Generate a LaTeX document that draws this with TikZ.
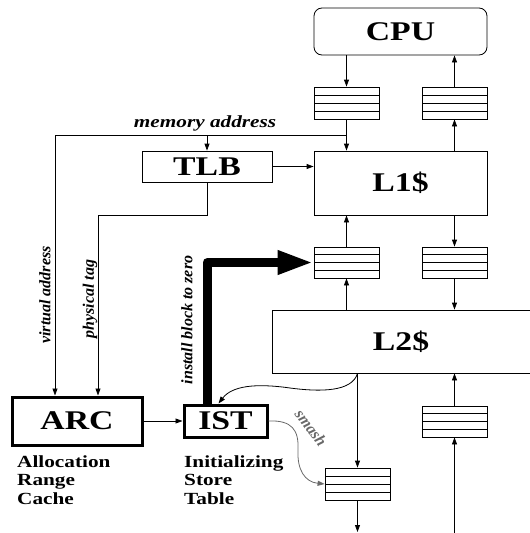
\documentclass[tikz,border=0pt]{standalone}
\usepackage{fontspec}
\setmainfont{Liberation Serif}
\newfontfamily\wide{Liberation Serif}[FakeStretch=1.25]
\usetikzlibrary{arrows.meta,calc}
\definecolor{smashgrey}{RGB}{105,105,105}
\tikzset{
  conn/.style={line width=0.8pt, -{Triangle[length=7pt,width=5pt]}},
  blk/.style={draw, line width=0.8pt, inner sep=0pt, font=\wide\bfseries\fontsize{27}{30}\selectfont},
  thickblk/.style={blk, line width=3pt},
  queue/.style={draw, line width=0.8pt, minimum width=65pt, minimum height=32pt, inner sep=0pt,
    path picture={\foreach \f in {0.25,0.5,0.75}{\draw[line width=0.8pt] ($(path picture bounding box.north west)!\f!(path picture bounding box.south west)$) -- ($(path picture bounding box.north east)!\f!(path picture bounding box.south east)$);}}},
  caption/.style={anchor=north west, align=left, inner sep=0pt, font=\wide\bfseries\fontsize{17}{18.5}\selectfont},
  sidelabel/.style={rotate=90, inner sep=0pt, font=\bfseries\itshape\fontsize{16}{18}\selectfont}
}
\begin{document}
\begin{tikzpicture}[x=1pt,y=-1pt]
\useasboundingbox (0,0) rectangle (530,533);
% blocks
\node[blk, rounded corners=8pt, minimum width=173pt, minimum height=47pt] (cpu) at (400.5,31.5) {CPU};
\node[queue] (q1) at (346.5,103) {};
\node[queue] (q2) at (454.5,103) {};
\node[blk, minimum width=173pt, minimum height=64pt] (l1) at (400.5,183) {L1\$};
\node[blk, minimum width=130pt, minimum height=31pt] (tlb) at (207,166.5) {TLB};
\node[queue, minimum height=31pt] (q3) at (346.5,262.5) {};
\node[queue, minimum height=31pt] (q4) at (454.5,262.5) {};
\node[blk, minimum width=264pt, minimum height=63pt] (l2) at (404,341.5) {};
\node[font=\wide\bfseries\fontsize{27}{30}\selectfont] (l2t) at (401,341.5) {L2\$};
\node[thickblk, minimum width=130pt, minimum height=48pt] (arc) at (77,421) {ARC};
\node[thickblk, minimum width=83pt, minimum height=32pt] (ist) at (225.5,421) {IST};
\node[queue] (q5) at (357.5,484) {};
\node[queue, minimum height=31pt] (q6) at (454.5,421.5) {};
% captions
\node[caption] (arccap) at (17,455) {Allocation\\Range\\Cache};
\node[caption] (istcap) at (184,455) {Initializing\\Store\\Table};
% labels
\node[anchor=base, inner sep=0pt, font=\wide\bfseries\itshape\fontsize{17}{19}\selectfont] (mal) at (205,127) {memory address};
\node[sidelabel] (val) at (45,295) {virtual address};
\node[sidelabel] (ptl) at (90,299) {physical tag};
\node[sidelabel] (ibl) at (187,320) {install block to zero};
\node[rotate=-53, inner sep=0pt, text=smashgrey, font=\bfseries\itshape\fontsize{16}{18}\selectfont] (sml) at (311,428) {smash};
% coordinates
\coordinate (ma) at (346.5,135);
\coordinate (mleft) at (55,135);
\coordinate (ptc) at (98,215);
\coordinate (outq) at (357.5,532);
\coordinate (inq) at (454.5,533);
% connectors
\draw[conn] (q1.north |- cpu.south) -- (q1.north);
\draw[conn] (q1.south) -- (q1.south |- l1.north);
\draw[conn] (q2.south |- l1.north) -- (q2.south);
\draw[conn] (q2.north) -- (q2.north |- cpu.south);
\draw[conn] (ma) -- (mleft) -- (mleft |- arc.north);
\draw[conn] (tlb.north |- ma) -- (tlb.north);
\draw[conn] (tlb.east) -- (tlb.east -| l1.west);
\draw[conn] (tlb.south) |- (ptc) -- (ptc |- arc.north);
\draw[conn] (q3.north) -- (q3.north |- l1.south);
\draw[conn] (q3.south |- l2.north) -- (q3.south);
\draw[conn] (q4.north |- l1.south) -- (q4.north);
\draw[conn] (q4.south) -- (q4.south |- l2.north);
\draw[conn] (q5.north |- l2.south) -- (q5.north);
\draw[conn] (q5.south) -- (outq);
\draw[conn] (inq) -- (q6.south);
\draw[conn] (q6.north) -- (q6.north |- l2.south);
\draw[conn] (arc.east) -- (ist.west);
\draw[line width=9pt, line join=round, -{Triangle[length=36pt,width=22pt]}] ([xshift=-18.5pt]ist.north) |- (q3.west);
\draw[conn] (q5.north |- l2.south) .. controls (352,392) and (320,392) .. (290,388) .. controls (255,383) and (232,386) .. ([xshift=-7pt]ist.north);
\draw[conn, smashgrey] (ist.east) .. controls (292,420) and (299,430) .. (298,450) .. controls (297,470) and (305,482) .. (q5.west);
\end{tikzpicture}
\end{document}
